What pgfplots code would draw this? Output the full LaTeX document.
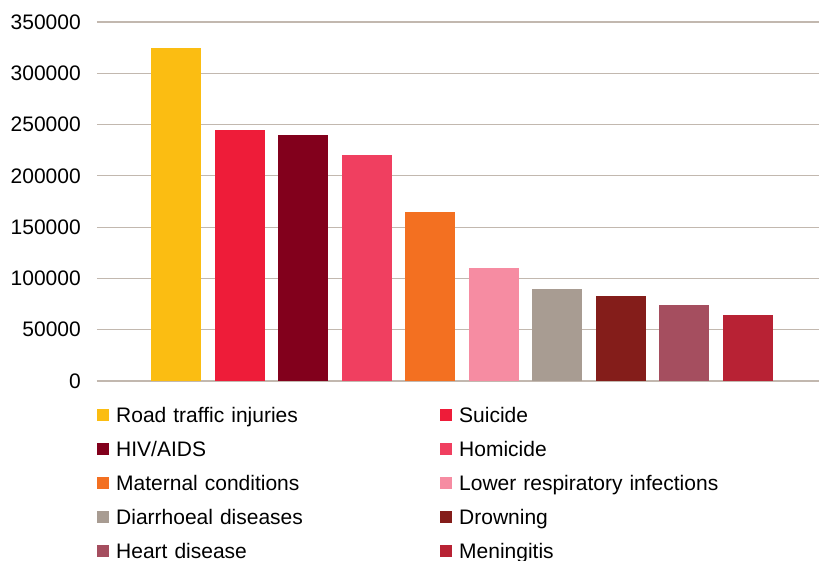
\documentclass[border=0pt]{standalone}
\usepackage{fontspec}
\setmainfont{Liberation Sans}
\usepackage{pgfplots}
\pgfplotsset{compat=1.18}

\definecolor{cRoad}{HTML}{FBBD12}
\definecolor{cSuicide}{HTML}{EE1C39}
\definecolor{cHIV}{HTML}{82001C}
\definecolor{cHomicide}{HTML}{F03F60}
\definecolor{cMaternal}{HTML}{F37021}
\definecolor{cLower}{HTML}{F68CA2}
\definecolor{cDiarr}{HTML}{A89C92}
\definecolor{cDrown}{HTML}{841D1A}
\definecolor{cHeart}{HTML}{A54E5F}
\definecolor{cMening}{HTML}{B82234}
\definecolor{gridc}{HTML}{C2B8AF}
\definecolor{basec}{HTML}{A9A29B}

\begin{document}
\fontsize{21}{25}\selectfont
\begin{tikzpicture}
\begin{axis}[
    scale only axis,
    width=722pt, height=359pt,
    xmin=-1.243, xmax=10.117,
    ymin=0, ymax=350000,
    ytick={0,50000,...,350000},
    xtick=\empty,
    scaled y ticks=false,
    /pgf/number format/assume math mode=true,
    yticklabel style={/pgf/number format/fixed, /pgf/number format/1000 sep={}, inner sep=0pt, xshift=-16pt},
    major tick length=0pt,
    axis line style={draw=none},
    ymajorgrids,
    major grid style={color=gridc, line width=1.2pt},
    extra y ticks={0},
    extra y tick labels={},
    extra y tick style={grid style={color=basec, line width=1.5pt}},
    legend columns=2,
    legend style={at={(axis description cs:0,0)}, anchor=north west, yshift=-26.3pt,
        draw=none, fill=none, inner sep=0pt, row sep=14.55pt,
        nodes={inner sep=0pt, text height=15pt, text depth=4.5pt, text width=300pt, align=left},
        /tikz/every odd column/.append style={column sep=7pt},
        /tikz/every even column/.append style={column sep=24pt}},
    legend image code/.code={\fill[#1, draw=none] (0pt,-4pt) rectangle (12pt,8pt);},
]
\addplot[ybar, bar width=50pt, fill=cRoad, draw=none] coordinates {(0,325000)};
\addlegendentry{Road traffic injuries}
\addplot[ybar, bar width=50pt, fill=cSuicide, draw=none] coordinates {(1,245000)};
\addlegendentry{Suicide}
\addplot[ybar, bar width=50pt, fill=cHIV, draw=none] coordinates {(2,240000)};
\addlegendentry{HIV/AIDS}
\addplot[ybar, bar width=50pt, fill=cHomicide, draw=none] coordinates {(3,220000)};
\addlegendentry{Homicide}
\addplot[ybar, bar width=50pt, fill=cMaternal, draw=none] coordinates {(4,165000)};
\addlegendentry{Maternal conditions}
\addplot[ybar, bar width=50pt, fill=cLower, draw=none] coordinates {(5,110000)};
\addlegendentry{Lower respiratory infections}
\addplot[ybar, bar width=50pt, fill=cDiarr, draw=none] coordinates {(6,90000)};
\addlegendentry{Diarrhoeal diseases}
\addplot[ybar, bar width=50pt, fill=cDrown, draw=none] coordinates {(7,83000)};
\addlegendentry{Drowning}
\addplot[ybar, bar width=50pt, fill=cHeart, draw=none] coordinates {(8,74000)};
\addlegendentry{Heart disease}
\addplot[ybar, bar width=50pt, fill=cMening, draw=none] coordinates {(9,64500)};
\addlegendentry{Meningitis}
\end{axis}
\pgfresetboundingbox
\useasboundingbox (-97pt,-180pt) rectangle (722pt,381pt);
\end{tikzpicture}
\end{document}
